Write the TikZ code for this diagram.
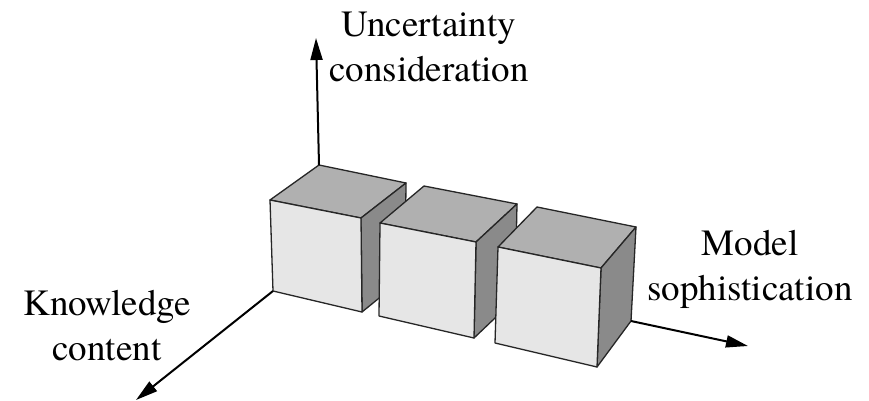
\documentclass[tikz,border=0pt]{standalone}
\usepackage{fontspec}
\setmainfont{texgyretermes-regular.otf}
\usetikzlibrary{arrows.meta}
\definecolor{frontc}{HTML}{E6E6E6}
\definecolor{topc}{HTML}{B0B0B0}
\definecolor{sidec}{HTML}{8A8A8A}
\begin{document}
\begin{tikzpicture}[x=1pt,y=-1pt,
  face/.style={draw=black!85, line width=1.3pt, line join=round},
  axis/.style={line width=2pt, -{Triangle[length=22pt,width=12pt]}},
  lab/.style={font=\fontsize{37}{45}\selectfont, align=center, inner sep=0pt, anchor=base}]
\useasboundingbox (0,0) rectangle (869,401);
% cube 1
\coordinate (c1fa) at (270,200); \coordinate (c1fb) at (361,218);
\coordinate (c1fc) at (362,312); \coordinate (c1fd) at (273,291);
\coordinate (c1ta) at (319,165); \coordinate (c1tb) at (406,183);
\coordinate (c1bb) at (405,277);
% cube 2
\coordinate (c2fa) at (380,223); \coordinate (c2fb) at (476,242);
\coordinate (c2fc) at (474,338); \coordinate (c2fd) at (379,316);
\coordinate (c2ta) at (424,186); \coordinate (c2tb) at (517,204);
\coordinate (c2bb) at (515,299);
% cube 3
\coordinate (c3fa) at (498,247); \coordinate (c3fb) at (601,268);
\coordinate (c3fc) at (597,367); \coordinate (c3fd) at (495,343);
\coordinate (c3ta) at (537,207); \coordinate (c3tb) at (636,227);
\coordinate (c3bb) at (631,321);
\foreach \i in {1,2,3}{
  \draw[face, fill=topc] (c\i fa) -- (c\i ta) -- (c\i tb) -- (c\i fb) -- cycle;
  \draw[face, fill=sidec] (c\i fb) -- (c\i tb) -- (c\i bb) -- (c\i fc) -- cycle;
  \draw[face, fill=frontc] (c\i fa) -- (c\i fb) -- (c\i fc) -- (c\i fd) -- cycle;
}
% axis ends
\coordinate (uend) at (316,38);
\coordinate (kend) at (136,400);
\coordinate (mend) at (748,346);
\draw[axis] (c1ta) -- (uend);
\draw[axis] (c1fd) -- (kend);
\draw[axis] (c3bb) -- (mend);
% labels
\node[lab] (ulab) at (429,82) {Uncertainty\\consideration};
\node[lab] (klab) at (107,360) {Knowledge\\content};
\node[lab] (mlab) at (750,300) {Model\\sophistication};
\end{tikzpicture}
\end{document}
